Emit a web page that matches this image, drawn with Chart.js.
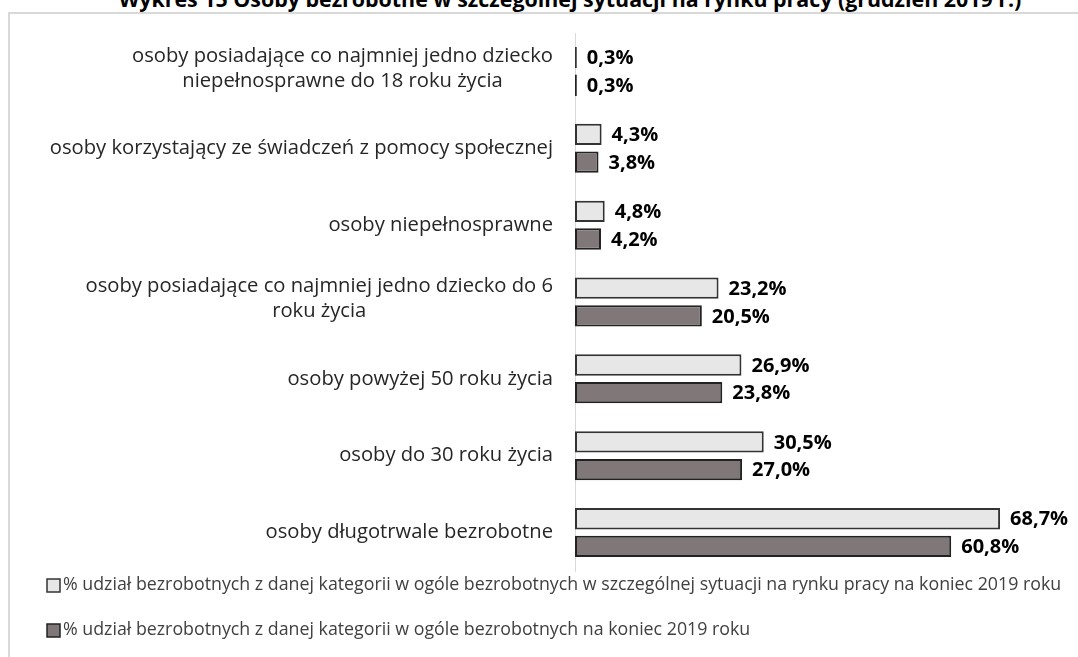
<!DOCTYPE html>
<html lang="pl">
<head>
<meta charset="utf-8">
<script src="https://cdn.jsdelivr.net/npm/chart.js@4.4.0/dist/chart.umd.min.js"></script>
<style>
html, body { margin: 0; padding: 0; background: #fff; overflow: hidden; }
#frame { position: absolute; left: 8px; top: 12px; width: 1200px; height: 800px; border-left: 2px solid #d9d9d9; border-top: 2px solid #d9d9d9; }
#title { position: absolute; left: 0; width: 1140px; top: -16px; text-align: center; font: bold 21.4px "Open Sans", sans-serif; color: #000; white-space: nowrap; }
#wrap { position: absolute; left: 0; top: 0; width: 1078px; height: 657px; }
</style>
</head>
<body>
<div id="frame"></div>
<div id="title">Wykres 15 Osoby bezrobotne w szczególnej sytuacji na rynku pracy (grudzień 2019 r.)</div>
<div id="wrap"><canvas id="chart"></canvas></div>
<script>
const FONT = '"Open Sans", sans-serif';

const categories = [
    ['osoby posiadające co najmniej jedno dziecko', 'niepełnosprawne do 18 roku życia'],
    'osoby korzystający ze świadczeń z pomocy społecznej',
    'osoby niepełnosprawne',
    ['osoby posiadające co najmniej jedno dziecko do 6', 'roku życia'],
    'osoby powyżej 50 roku życia',
    'osoby do 30 roku życia',
    'osoby długotrwale bezrobotne'
];
const shareSpecial = [0.3, 4.3, 4.8, 23.2, 26.9, 30.5, 68.7];
const shareTotal = [0.3, 3.8, 4.2, 20.5, 23.8, 27.0, 60.8];
const seriesNames = [
    '% udział bezrobotnych z danej kategorii w ogóle bezrobotnych w szczególnej sytuacji na rynku pracy na koniec 2019 roku',
    '% udział bezrobotnych z danej kategorii w ogóle bezrobotnych na koniec 2019 roku'
];

function fmt(v) {
    return v.toFixed(1).replace('.', ',') + '%';
}

// percentages at the end of each bar
const valueLabels = {
    id: 'valueLabels',
    afterDatasetsDraw(chart) {
        var ctx = chart.ctx;
        ctx.save();
        ctx.font = 'bold 20px ' + FONT;
        ctx.fillStyle = '#000';
        ctx.textAlign = 'left';
        ctx.textBaseline = 'middle';
        chart.data.datasets.forEach((ds, di) => {
            chart.getDatasetMeta(di).data.forEach((bar, i) => {
                ctx.fillText(fmt(ds.data[i]), bar.x + 10, bar.y + 1);
            });
        });
        ctx.restore();
    }
};

// category labels: block right-aligned, lines centred inside the block
const categoryLabels = {
    id: 'categoryLabels',
    afterDraw(chart) {
        var ctx = chart.ctx;
        var yScale = chart.scales.y;
        ctx.save();
        ctx.font = '20.2px ' + FONT;
        ctx.fillStyle = '#262626';
        ctx.textAlign = 'center';
        ctx.textBaseline = 'middle';
        categories.forEach((c, i) => {
            var lines = Array.isArray(c) ? c : [c];
            var w = Math.max(...lines.map(l => ctx.measureText(l).width));
            var cx = yScale.right - 22 - w / 2;
            var cy = yScale.getPixelForValue(i) - (lines.length > 1 ? 3 : 0);
            lines.forEach((l, k) => {
                ctx.fillText(l, cx, cy + (k - (lines.length - 1) / 2) * 25);
            });
        });
        ctx.restore();
    }
};

// legend under the plot, one series per row
const legendRows = {
    id: 'legendRows',
    afterDraw(chart) {
        var ctx = chart.ctx;
        ctx.save();
        ctx.font = '17.8px ' + FONT;
        ctx.textAlign = 'left';
        ctx.textBaseline = 'middle';
        chart.data.datasets.forEach((ds, di) => {
            var y = 585 + di * 45;
            ctx.fillStyle = ds.backgroundColor;
            ctx.strokeStyle = ds.borderColor;
            ctx.lineWidth = 1.5;
            ctx.fillRect(47, y - 6, 13, 13);
            ctx.strokeRect(47, y - 6, 13, 13);
            ctx.fillStyle = '#404040';
            ctx.fillText(ds.label, 63, y);
        });
        ctx.restore();
    }
};

var ctx = document.getElementById('chart').getContext('2d');
new Chart(ctx, {
    type: 'bar',
    data: {
        labels: categories,
        datasets: [{
            label: seriesNames[0],
            data: shareSpecial,
            backgroundColor: '#e7e7e7',
            borderColor: '#333333',
            borderWidth: 2,
            borderSkipped: false,
            categoryPercentage: 0.72,
            barPercentage: 0.77
        },
        {
            label: seriesNames[1],
            data: shareTotal,
            backgroundColor: '#807878',
            borderColor: '#222222',
            borderWidth: 2,
            borderSkipped: false,
            categoryPercentage: 0.72,
            barPercentage: 0.77
        }]
    },
    options: {
        indexAxis: 'y',
        responsive: true,
        maintainAspectRatio: false,
        animation: false,
        layout: {
            padding: { left: 16, right: 8, top: 33, bottom: 86 }
        },
        scales: {
            x: {
                display: false,
                min: 0,
                max: 80
            },
            y: {
                grid: { display: false },
                border: { display: true, color: '#d9d9d9', width: 1 },
                ticks: { color: 'rgba(0,0,0,0)', font: { size: 18, family: FONT } },
                afterFit: function (scale) {
                    scale.width = 559;
                }
            }
        },
        plugins: {
            legend: { display: false },
            tooltip: { enabled: false }
        }
    },
    plugins: [valueLabels, categoryLabels, legendRows]
});
</script>
</body>
</html>
